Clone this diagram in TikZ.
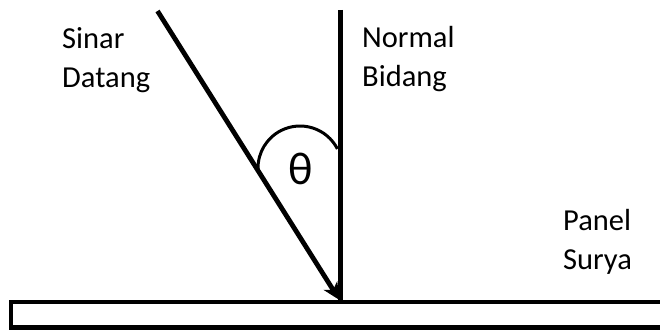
\documentclass[tikz,border=0pt]{standalone}
\usepackage{fontspec}
\setmainfont{Carlito}
\usetikzlibrary{arrows.meta}
\begin{document}
\begin{tikzpicture}[x=1pt,y=-1pt,
  lbl/.style={anchor=base west,inner sep=0pt,align=left,font=\fontsize{30.5}{38.5}\selectfont},
  thick line/.style={line width=4.8pt},
  ray/.style={line width=4.8pt,-{Stealth[length=17pt,width=16pt,inset=5pt]}},
  panelbox/.style={draw,line width=4.2pt},
  anglearc/.style={line width=3pt}]
\useasboundingbox (0,0) rectangle (660,329);
\fill[white] (0,0) rectangle (660,329);
% panel
\draw[panelbox] (11,302) rectangle (680,327.5);
% normal
\coordinate (ntop) at (340.5,10);
\coordinate (nbot) at (340.5,302);
\draw[thick line] (ntop) -- (nbot);
% incoming ray
\coordinate (rtop) at (157.5,11);
\coordinate (rtip) at (339.5,300);
\draw[ray] (rtop) -- (rtip);
% angle arc
\coordinate (ac) at (300,168);
\draw[anglearc] ([shift={(-27:42)}]ac) arc[start angle=-27,end angle=-181,radius=42];
\node[inner sep=0pt,font=\fontsize{46}{50}\selectfont] (theta) at (301,169) {θ};
% labels
\node[lbl] (sinar) at (62,87) {Sinar\\Datang};
\node[lbl] (normal) at (362,86) {Normal\\Bidang};
\node[lbl] (panel) at (563,269) {Panel\\Surya};
\end{tikzpicture}
\end{document}
